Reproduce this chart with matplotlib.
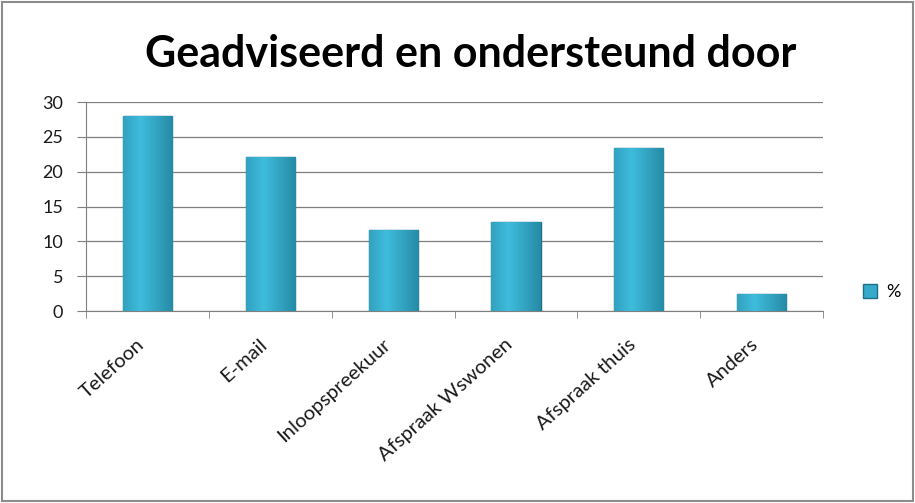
import numpy as np
import matplotlib
matplotlib.use('Agg')
import matplotlib.pyplot as plt
import matplotlib.transforms as mtransforms
from matplotlib.patches import Rectangle
from matplotlib.colors import LinearSegmentedColormap

# data
categories = ['Telefoon', 'E-mail', 'Inloopspreekuur', 'Afspraak Wswonen', 'Afspraak thuis', 'Anders']
values = [28.0, 22.1, 11.6, 12.8, 23.4, 2.4]
series_name = '%'
y_ticks = [0, 5, 10, 15, 20, 25, 30]

plt.rcParams['font.family'] = ['Lato', 'DejaVu Sans']

fig = plt.figure(figsize=(9.15, 5.03), dpi=100)
fig.patch.set_facecolor('white')

# outer chart border
fig.patches.append(Rectangle((0.002, 0.004), 0.996, 0.992, transform=fig.transFigure,
                             fill=False, edgecolor='#8c8c8c', linewidth=1.5))

ax = fig.add_axes([0.094, 0.3817, 0.8055, 0.4155])

x = np.arange(len(categories))
bars = ax.bar(x, values, width=0.4, color='#35AACB', edgecolor='#1D6F87',
              linewidth=1.0, label=series_name, zorder=3)

# horizontal gradient on each bar to mimic the bevel look
bar_cmap = LinearSegmentedColormap.from_list('bar', ['#1F7E98', '#3FBCDC'])
grad = np.linspace(0, 1, 64).reshape(1, -1)
grad = 1 - np.abs(grad - 0.35) * 1.2
for b in bars:
    bx, by = b.get_x(), b.get_y()
    w, h = b.get_width(), b.get_height()
    im = ax.imshow(grad, extent=[bx, bx + w, by, by + h], aspect='auto',
                   cmap=bar_cmap, vmin=0, vmax=1, zorder=3.5)
    im.set_clip_path(b)

ax.set_xlim(-0.5, len(categories) - 0.5)
ax.set_ylim(0, 30)
ax.set_yticks(y_ticks)
ax.set_yticklabels([str(v) for v in y_ticks], fontsize=13, color='#1a1a1a')
ax.yaxis.grid(True, color='#7f7f7f', linewidth=0.9, zorder=0)
ax.set_axisbelow(True)

ax.set_xticks(x)
ax.set_xticklabels(categories, rotation=42, ha='right', va='center',
                   rotation_mode='anchor', fontsize=14.5, color='#1a1a1a')
ax.tick_params(axis='x', length=0, pad=22)
shift = mtransforms.ScaledTranslation(-4 / 72, 0, fig.dpi_scale_trans)
for lbl in ax.get_xticklabels():
    lbl.set_transform(lbl.get_transform() + shift)
ax.set_xticks(np.arange(len(categories) + 1) - 0.5, minor=True)
ax.tick_params(axis='x', which='minor', length=5, color='#7f7f7f')
ax.tick_params(axis='y', length=6.5, color='#7f7f7f', pad=10)

for side in ['top', 'right']:
    ax.spines[side].set_visible(False)
ax.spines['left'].set_color('#7f7f7f')
ax.spines['bottom'].set_color('#7f7f7f')

fig.text(0.514, 0.867, 'Geadviseerd en ondersteund door', ha='center', va='baseline',
         fontsize=31, fontweight='bold', color='black')

leg = ax.legend(loc='center left', bbox_to_anchor=(0.943, 0.4195), bbox_transform=fig.transFigure,
                frameon=False, fontsize=13, handlelength=0.8, handleheight=0.8,
                handletextpad=0.5, borderpad=0, borderaxespad=0)

fig.savefig('out.png', dpi=100)
